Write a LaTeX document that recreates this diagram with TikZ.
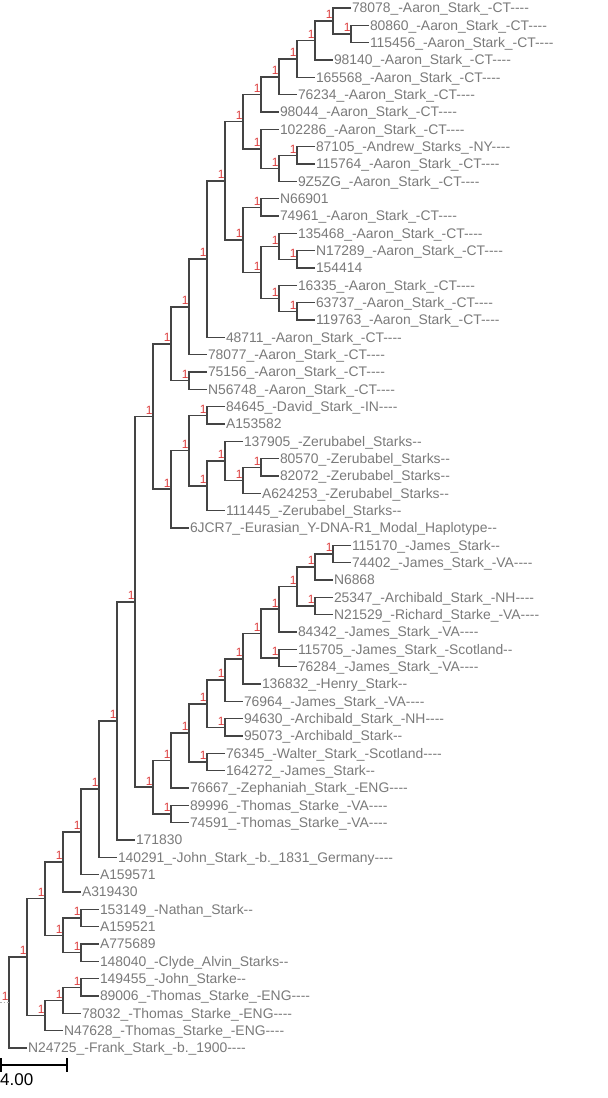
\documentclass[tikz,border=0pt]{standalone}
\usepackage{fontspec}
\newfontfamily\treefont{Liberation Sans}
\usepackage{tikz}
\usetikzlibrary{calc}
\definecolor{branchgray}{RGB}{68,68,68}
\definecolor{taxongray}{RGB}{122,122,122}
\definecolor{supportred}{RGB}{220,62,62}

\tikzset{
  branch/.style={draw=branchgray, line width=1.6bp},
  taxon/.style={anchor=west, text=taxongray, font=\treefont\fontsize{13.9bp}{15bp}\selectfont,
    inner xsep=1bp, inner ysep=0pt, outer sep=0pt, text height=9.9bp, text depth=0pt},
  support/.style={anchor=south east, text=supportred, font=\treefont\fontsize{12bp}{13bp}\selectfont,
    inner sep=0pt, text height=8.6bp, text depth=0pt},
  barline/.style={draw=black, line width=1.5bp}
}

% clade: name, depth, upper child, lower child
\newcommand{\clade}[4]{%
  \path let \p1=(#3), \p2=(#4) in coordinate (#1) at ({9+18*#2},{0.5*(\y1+\y2)});
  \draw[branch] (#3) -| (#1) |- (#4);
  \node[support] (#1-s) at ([shift={(-0.2bp,2bp)}]#1) {1};
}

\begin{document}
\begin{tikzpicture}[x=1bp, y=-17.3333bp]
    \useasboundingbox (0,{1-8/17.3333}) rectangle (608,{1+1090/17.3333});

    % Taxa (one row each)
    \node[taxon] (t78078)  at ({9+18*19},1)  {78078\_-Aaron\_Stark\_-CT----};
    \node[taxon] (t80860)  at ({9+18*20},2)  {80860\_-Aaron\_Stark\_-CT----};
    \node[taxon] (t115456) at ({9+18*20},3)  {115456\_-Aaron\_Stark\_-CT----};
    \node[taxon] (t98140)  at ({9+18*18},4)  {98140\_-Aaron\_Stark\_-CT----};
    \node[taxon] (t165568) at ({9+18*17},5)  {165568\_-Aaron\_Stark\_-CT----};
    \node[taxon] (t76234)  at ({9+18*16},6)  {76234\_-Aaron\_Stark\_-CT----};
    \node[taxon] (t98044)  at ({9+18*15},7)  {98044\_-Aaron\_Stark\_-CT----};
    \node[taxon] (t102286) at ({9+18*15},8)  {102286\_-Aaron\_Stark\_-CT----};
    \node[taxon] (t87105)  at ({9+18*17},9)  {87105\_-Andrew\_Starks\_-NY----};
    \node[taxon] (t115764) at ({9+18*17},10) {115764\_-Aaron\_Stark\_-CT----};
    \node[taxon] (t9Z5ZG)  at ({9+18*16},11) {9Z5ZG\_-Aaron\_Stark\_-CT----};
    \node[taxon] (tN66901) at ({9+18*15},12) {N66901};
    \node[taxon] (t74961)  at ({9+18*15},13) {74961\_-Aaron\_Stark\_-CT----};
    \node[taxon] (t135468) at ({9+18*16},14) {135468\_-Aaron\_Stark\_-CT----};
    \node[taxon] (tN17289) at ({9+18*17},15) {N17289\_-Aaron\_Stark\_-CT----};
    \node[taxon] (t154414) at ({9+18*17},16) {154414};
    \node[taxon] (t16335)  at ({9+18*16},17) {16335\_-Aaron\_Stark\_-CT----};
    \node[taxon] (t63737)  at ({9+18*17},18) {63737\_-Aaron\_Stark\_-CT----};
    \node[taxon] (t119763) at ({9+18*17},19) {119763\_-Aaron\_Stark\_-CT----};
    \node[taxon] (t48711)  at ({9+18*12},20) {48711\_-Aaron\_Stark\_-CT----};
    \node[taxon] (t78077)  at ({9+18*11},21) {78077\_-Aaron\_Stark\_-CT----};
    \node[taxon] (t75156)  at ({9+18*11},22) {75156\_-Aaron\_Stark\_-CT----};
    \node[taxon] (tN56748) at ({9+18*11},23) {N56748\_-Aaron\_Stark\_-CT----};
    \node[taxon] (t84645)  at ({9+18*12},24) {84645\_-David\_Stark\_-IN----};
    \node[taxon] (tA153582) at ({9+18*12},25) {A153582};
    \node[taxon] (t137905) at ({9+18*13},26) {137905\_-Zerubabel\_Starks--};
    \node[taxon] (t80570)  at ({9+18*15},27) {80570\_-Zerubabel\_Starks--};
    \node[taxon] (t82072)  at ({9+18*15},28) {82072\_-Zerubabel\_Starks--};
    \node[taxon] (tA624253) at ({9+18*14},29) {A624253\_-Zerubabel\_Starks--};
    \node[taxon] (t111445) at ({9+18*12},30) {111445\_-Zerubabel\_Starks--};
    \node[taxon] (t6JCR7)  at ({9+18*10},31) {6JCR7\_-Eurasian\_Y-DNA-R1\_Modal\_Haplotype--};
    \node[taxon] (t115170) at ({9+18*19},32) {115170\_-James\_Stark--};
    \node[taxon] (t74402)  at ({9+18*19},33) {74402\_-James\_Stark\_-VA----};
    \node[taxon] (tN6868)  at ({9+18*18},34) {N6868};
    \node[taxon] (t25347)  at ({9+18*18},35) {25347\_-Archibald\_Stark\_-NH----};
    \node[taxon] (tN21529) at ({9+18*18},36) {N21529\_-Richard\_Starke\_-VA----};
    \node[taxon] (t84342)  at ({9+18*16},37) {84342\_-James\_Stark\_-VA----};
    \node[taxon] (t115705) at ({9+18*16},38) {115705\_-James\_Stark\_-Scotland--};
    \node[taxon] (t76284)  at ({9+18*16},39) {76284\_-James\_Stark\_-VA----};
    \node[taxon] (t136832) at ({9+18*14},40) {136832\_-Henry\_Stark--};
    \node[taxon] (t76964)  at ({9+18*13},41) {76964\_-James\_Stark\_-VA----};
    \node[taxon] (t94630)  at ({9+18*13},42) {94630\_-Archibald\_Stark\_-NH----};
    \node[taxon] (t95073)  at ({9+18*13},43) {95073\_-Archibald\_Stark--};
    \node[taxon] (t76345)  at ({9+18*12},44) {76345\_-Walter\_Stark\_-Scotland----};
    \node[taxon] (t164272) at ({9+18*12},45) {164272\_-James\_Stark--};
    \node[taxon] (t76667)  at ({9+18*10},46) {76667\_-Zephaniah\_Stark\_-ENG----};
    \node[taxon] (t89996)  at ({9+18*10},47) {89996\_-Thomas\_Starke\_-VA----};
    \node[taxon] (t74591)  at ({9+18*10},48) {74591\_-Thomas\_Starke\_-VA----};
    \node[taxon] (t171830) at ({9+18*7},49)  {171830};
    \node[taxon] (t140291) at ({9+18*6},50)  {140291\_-John\_Stark\_-b.\_1831\_Germany----};
    \node[taxon] (tA159571) at ({9+18*5},51) {A159571};
    \node[taxon] (tA319430) at ({9+18*4},52) {A319430};
    \node[taxon] (t153149) at ({9+18*5},53)  {153149\_-Nathan\_Stark--};
    \node[taxon] (tA159521) at ({9+18*5},54) {A159521};
    \node[taxon] (tA775689) at ({9+18*5},55) {A775689};
    \node[taxon] (t148040) at ({9+18*5},56)  {148040\_-Clyde\_Alvin\_Starks--};
    \node[taxon] (t149455) at ({9+18*5},57)  {149455\_-John\_Starke--};
    \node[taxon] (t89006)  at ({9+18*5},58)  {89006\_-Thomas\_Starke\_-ENG----};
    \node[taxon] (t78032)  at ({9+18*4},59)  {78032\_-Thomas\_Starke\_-ENG----};
    \node[taxon] (tN47628) at ({9+18*3},60)  {N47628\_-Thomas\_Starke\_-ENG----};
    \node[taxon] (tN24725) at ({9+18*1},61)  {N24725\_-Frank\_Stark\_-b.\_1900----};

    % Aaron Stark clades
    \clade{a1}{19}{t80860}{t115456}
    \clade{a2}{18}{t78078}{a1}
    \clade{a3}{17}{a2}{t98140}
    \clade{a4}{16}{a3}{t165568}
    \clade{a5}{15}{a4}{t76234}
    \clade{a6}{14}{a5}{t98044}
    \clade{b1}{16}{t87105}{t115764}
    \clade{b2}{15}{b1}{t9Z5ZG}
    \clade{b3}{14}{t102286}{b2}
    \clade{a7}{13}{a6}{b3}
    \clade{c1}{14}{tN66901}{t74961}
    \clade{c2}{16}{tN17289}{t154414}
    \clade{c3}{15}{t135468}{c2}
    \clade{c4}{16}{t63737}{t119763}
    \clade{c5}{15}{t16335}{c4}
    \clade{c6}{14}{c3}{c5}
    \clade{c7}{13}{c1}{c6}
    \clade{p1}{12}{a7}{c7}
    \clade{p}{11}{p1}{t48711}
    \clade{o}{10}{p}{t78077}
    \clade{q}{10}{t75156}{tN56748}
    \clade{n}{9}{o}{q}

    % David / Zerubabel clades
    \clade{dav}{11}{t84645}{tA153582}
    \clade{zer1}{14}{t80570}{t82072}
    \clade{zer2}{13}{zer1}{tA624253}
    \clade{zer3}{12}{t137905}{zer2}
    \clade{zer4}{11}{zer3}{t111445}
    \clade{dz}{10}{dav}{zer4}
    \clade{s}{9}{dz}{t6JCR7}
    \clade{l}{8}{n}{s}

    % James Stark clades
    \clade{m10a}{18}{t115170}{t74402}
    \clade{m10}{17}{m10a}{tN6868}
    \clade{m9b}{17}{t25347}{tN21529}
    \clade{m9}{16}{m10}{m9b}
    \clade{m8}{15}{m9}{t84342}
    \clade{m7b}{15}{t115705}{t76284}
    \clade{m7}{14}{m8}{m7b}
    \clade{m6}{13}{m7}{t136832}
    \clade{m5}{12}{m6}{t76964}
    \clade{m4b}{12}{t94630}{t95073}
    \clade{m4}{11}{m5}{m4b}
    \clade{m3b}{11}{t76345}{t164272}
    \clade{m3}{10}{m4}{m3b}
    \clade{m1}{9}{m3}{t76667}
    \clade{m2}{9}{t89996}{t74591}
    \clade{m}{8}{m1}{m2}

    % Backbone
    \clade{k}{7}{l}{m}
    \clade{j}{6}{k}{t171830}
    \clade{i}{5}{j}{t140291}
    \clade{h}{4}{i}{tA159571}
    \clade{d}{3}{h}{tA319430}
    \clade{e1}{4}{t153149}{tA159521}
    \clade{e2}{4}{tA775689}{t148040}
    \clade{e}{3}{e1}{e2}
    \clade{b}{2}{d}{e}
    \clade{g}{4}{t149455}{t89006}
    \clade{f}{3}{g}{t78032}
    \clade{c}{2}{f}{tN47628}
    \clade{a}{1}{b}{c}
    \clade{root}{0}{a}{tN24725}

    % Root stub
    \coordinate (stub) at ([xshift=-9bp]root);
    \draw[branch, draw=taxongray!60, dotted] (stub) -- (root);

    % Scale bar
    \coordinate (barL) at (0.8,{1+(1065-8)/17.3333});
    \coordinate (barR) at (67,{1+(1065-8)/17.3333});
    \draw[barline] (barL) -- (barR);
    \draw[barline] ([yshift=7bp]barL) -- ([yshift=-7bp]barL);
    \draw[barline] ([yshift=7bp]barR) -- ([yshift=-7bp]barR);
    \node[anchor=base west, inner sep=0pt, font=\treefont\fontsize{17bp}{18bp}\selectfont] (barlabel)
        at (0,{1+(1085-8)/17.3333}) {4.00};
\end{tikzpicture}
\end{document}
